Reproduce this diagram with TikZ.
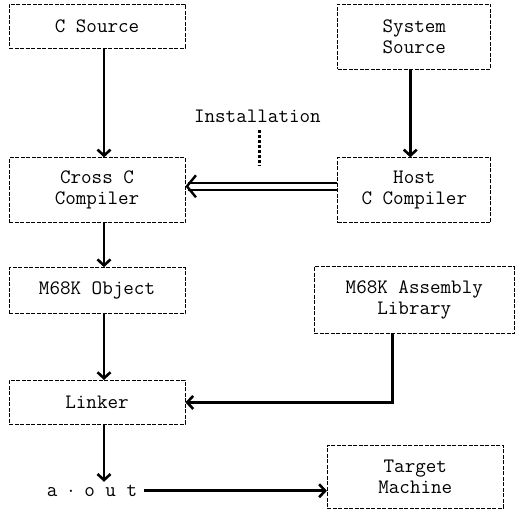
\documentclass[tikz,border=0pt]{standalone}
\usetikzlibrary{arrows.meta,positioning}
\tikzset{
    %Define standard arrow tip
    >={Straight Barb[length=6pt,width=13pt]},
    %Define style for boxes
    boks/.style={
           rectangle,
           draw=black, line width=0.8pt,
           dash pattern=on 4pt off 1.5pt,
           minimum width=176pt,
           minimum height=44pt,
           font=\ttfamily\fontsize{20.5}{21}\selectfont,
           align=center},
    % Define arrow style
    flow/.style={
           ->,
           line width=2.6pt},
    dubbel/.style={
           -{Straight Barb[length=9pt,width=22pt,line width=2.4pt]},
           double, double distance=5pt,
           line width=1.8pt}
}
\begin{document}
\begin{tikzpicture}[node distance=1cm]
\useasboundingbox (0pt,0pt) rectangle (518pt,-508pt);

 %nodes
\node[boks] (csrc) at (97pt,-26pt) {C Source};
\node[boks, minimum height=65pt, below=109pt of csrc] (cross) {Cross C\\Compiler};
\node[boks, minimum height=46pt, below=44pt of cross] (obj) {M68K Object};
\node[boks, below=66pt of obj] (linker) {Linker};
\node[font=\ttfamily\fontsize{20.5}{21}\selectfont, inner sep=0pt,
      below=60pt of linker, xshift=-5pt] (aout) {a $\cdot$ o u t};

\node[boks, minimum width=153pt, minimum height=65pt,
      right=152pt of csrc.north east, anchor=north west] (sys) {System\\Source};
\node[boks, minimum width=153pt, minimum height=65pt, below=88pt of sys] (host) {Host\\C Compiler};
\node[boks, minimum width=200pt, minimum height=67pt, below=43pt of host] (lib) {M68K Assembly\\Library};
\node[boks, minimum height=63pt, below=111pt of lib, xshift=1pt] (target) {Target\\Machine};

 %installation
\path (cross.east) -- (host.west)
    node[midway, above=64pt, xshift=-4pt, font=\ttfamily\fontsize{20.5}{21}\selectfont] (inst) {Installation};
\coordinate[below=40pt of inst.south, xshift=2pt] (instend);

 %connectors
\draw[flow] ([xshift=7pt]csrc.south) -- ([xshift=7pt]cross.north);
\draw[flow] ([xshift=7pt]cross.south) -- ([xshift=7pt]obj.north);
\draw[flow] ([xshift=7pt]obj.south) -- ([xshift=7pt]linker.north);
\draw[flow] ([xshift=7pt]linker.south) -- ([xshift=12pt,yshift=3pt]aout.north);
\draw[flow] ([xshift=-4pt]sys.south) -- ([xshift=-4pt]host.north);
\draw[dubbel] ([yshift=4pt]host.west) -- ([yshift=4pt]cross.east);
\draw[line width=2.2pt, dash pattern=on 3pt off 2pt] ([xshift=2pt,yshift=-4pt]inst.south) -- (instend);
\draw[flow] ([xshift=-22pt]lib.south) |- (linker.east);
\draw[flow] (aout.east) ++(7pt,0) -- (aout.east -| target.west);

\end{tikzpicture}
\end{document}
